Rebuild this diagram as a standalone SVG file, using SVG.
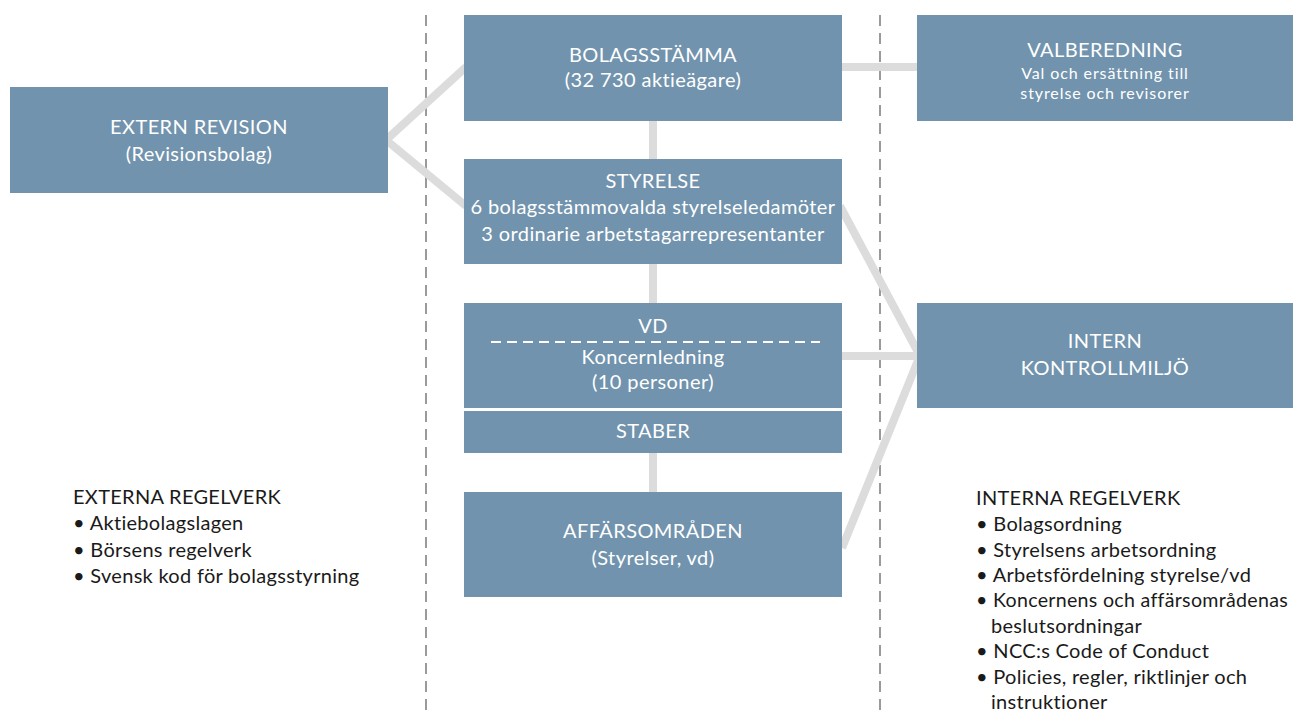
<svg xmlns="http://www.w3.org/2000/svg" width="1293" height="713" viewBox="0 0 1293 713">
<style>
.box{fill:#7193ad;}
.t{font-family:Lato,"Liberation Sans",sans-serif;fill:#ffffff;text-anchor:middle;font-size:20px;letter-spacing:0.4px;}
.s{font-size:16px;letter-spacing:0.9px;}
.k{font-family:Lato,"Liberation Sans",sans-serif;fill:#1a1a1a;font-size:20px;letter-spacing:0.3px;}
.con{stroke:#dcdcdc;stroke-width:8;fill:none;}
.sep{stroke:#9a9a9a;stroke-width:2;stroke-dasharray:11 7;fill:none;}
</style>
<rect width="1293" height="713" fill="#ffffff"/>
<g id="separators">
<line class="sep" x1="426" y1="15" x2="426" y2="713"/>
<line class="sep" x1="880" y1="15" x2="880" y2="713"/>
</g>
<g id="connectors">
<line class="con" x1="386" y1="140" x2="466" y2="67"/>
<line class="con" x1="386" y1="140" x2="466" y2="206"/>
<line class="con" x1="653" y1="121" x2="653" y2="159"/>
<line class="con" x1="653" y1="264" x2="653" y2="303"/>
<line class="con" x1="653" y1="453" x2="653" y2="492"/>
<line class="con" x1="842" y1="67" x2="917" y2="67"/>
<line class="con" x1="840" y1="206" x2="919" y2="354"/>
<line class="con" x1="842" y1="356" x2="917" y2="356"/>
<line class="con" x1="919" y1="358" x2="842" y2="548"/>
</g>
<g id="extern-revision">
<rect class="box" x="10" y="87" width="378" height="106"/>
<text class="t" x="199" y="134">EXTERN REVISION</text>
<text class="t" x="199" y="161">(Revisionsbolag)</text>
</g>
<g id="bolagsstamma">
<rect class="box" x="464" y="15" width="378" height="106"/>
<text class="t" x="653" y="62">BOLAGSSTÄMMA</text>
<text class="t" x="653" y="87">(32 730 aktieägare)</text>
</g>
<g id="styrelse">
<rect class="box" x="464" y="159" width="378" height="105"/>
<text class="t" x="653" y="188">STYRELSE</text>
<text class="t" x="653" y="214">6 bolagsstämmovalda styrelseledamöter</text>
<text class="t" x="653" y="241">3 ordinarie arbetstagarrepresentanter</text>
</g>
<g id="vd">
<rect class="box" x="464" y="303" width="378" height="105"/>
<text class="t" x="653" y="333">VD</text>
<line x1="491" y1="342" x2="820" y2="342" stroke="#ffffff" stroke-width="2" stroke-dasharray="10 6"/>
<text class="t" x="653" y="364">Koncernledning</text>
<text class="t" x="653" y="389">(10 personer)</text>
</g>
<g id="staber">
<rect class="box" x="464" y="411" width="378" height="42"/>
<text class="t" x="653" y="438">STABER</text>
</g>
<g id="affarsomraden">
<rect class="box" x="464" y="492" width="378" height="105"/>
<text class="t" x="653" y="538">AFFÄRSOMRÅDEN</text>
<text class="t" x="653" y="565">(Styrelser, vd)</text>
</g>
<g id="valberedning">
<rect class="box" x="917" y="15" width="376" height="106"/>
<text class="t" x="1105" y="57">VALBEREDNING</text>
<text class="t s" x="1105" y="79">Val och ersättning till</text>
<text class="t s" x="1105" y="99">styrelse och revisorer</text>
</g>
<g id="intern-kontrollmiljo">
<rect class="box" x="917" y="303" width="376" height="105"/>
<text class="t" x="1105" y="348">INTERN</text>
<text class="t" x="1105" y="375">KONTROLLMILJÖ</text>
</g>
<g id="externa-regelverk">
<text class="k" x="73" y="504">EXTERNA REGELVERK</text>
<text class="k" x="73" y="530">• Aktiebolagslagen</text>
<text class="k" x="73" y="557">• Börsens regelverk</text>
<text class="k" x="73" y="583">• Svensk kod för bolagsstyrning</text>
</g>
<g id="interna-regelverk">
<text class="k" x="976" y="505">INTERNA REGELVERK</text>
<text class="k" x="976" y="531">• Bolagsordning</text>
<text class="k" x="976" y="557">• Styrelsens arbetsordning</text>
<text class="k" x="976" y="582">• Arbetsfördelning styrelse/vd</text>
<text class="k" x="976" y="607" textLength="312" lengthAdjust="spacingAndGlyphs">• Koncernens och affärsområdenas</text>
<text class="k" x="991" y="633">beslutsordningar</text>
<text class="k" x="976" y="658">• NCC:s Code of Conduct</text>
<text class="k" x="976" y="684">• Policies, regler, riktlinjer och</text>
<text class="k" x="991" y="709">instruktioner</text>
</g>
</svg>
